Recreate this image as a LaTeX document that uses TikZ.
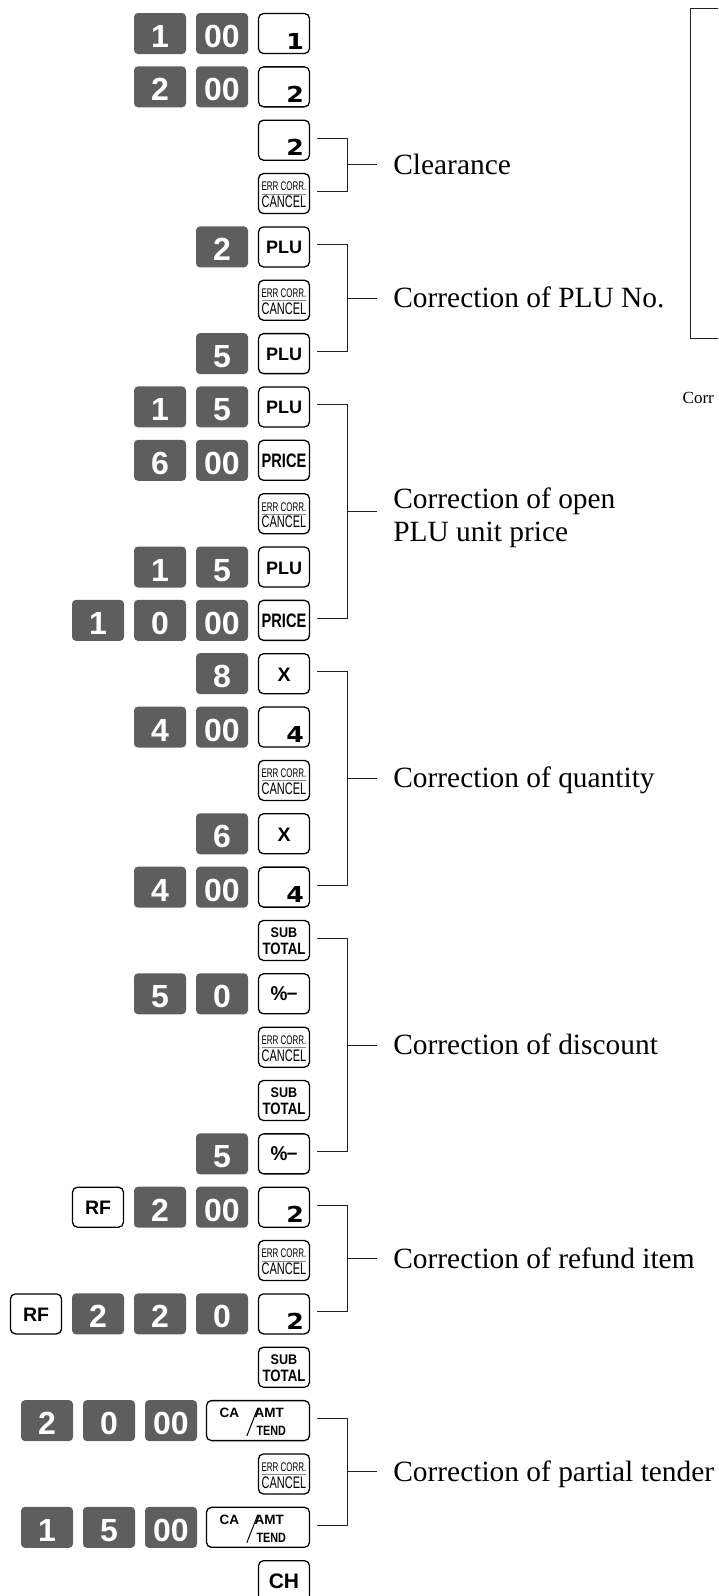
\documentclass[tikz,border=0pt]{standalone}
\usepackage{fontspec}
\setmainfont{Liberation Serif}
\newfontfamily\keyfont{Liberation Sans}
\newfontfamily\heavyfont{DejaVu Sans}
\usepackage{graphicx}
\usetikzlibrary{calc}
\definecolor{dkgray}{HTML}{5E5E5E}
\definecolor{rulegray}{HTML}{8A8A8A}
\definecolor{lnc}{HTML}{222222}

\newcommand\wdig[1]{\makebox[40pt][r]{\scalebox{1.15}[1]{#1}}}
\newcommand\errlabel{\vbox{\offinterlineskip
  \kern3pt
  \hbox to 46pt{\hss\scalebox{0.64}[1]{\fontsize{12.5}{12.5}\selectfont ERR CORR.}\hss}
  \kern2.5pt
  \hbox to 46pt{\hss\textcolor{rulegray}{\rule{44pt}{0.7pt}}\hss}
  \kern1.8pt
  \hbox to 46pt{\hss\scalebox{0.66}[1]{\fontsize{16.7}{16.7}\selectfont CANCEL}\hss}}}
\newcommand\sublabel{\vbox{\offinterlineskip
  \kern2pt
  \hbox to 46pt{\hss\scalebox{0.9}[1]{\fontsize{14}{14}\bfseries\selectfont SUB}\hss}
  \kern5pt
  \hbox to 46pt{\hss\scalebox{0.8}[1]{\fontsize{16.5}{16.5}\bfseries\selectfont TOTAL}\hss}}}
\newcommand\price{\scalebox{0.75}[1]{PRICE}}
\newcommand\pctm{\scalebox{0.95}[1]{\fontsize{20}{20}\selectfont\%\kern-0.5pt\raisebox{1.5pt}{–}}}
\newcommand\K[5][dk]{\node[#1] (#2) at (#3,{33.5+(#4-1)*53.35}) {#5};}
\newcommand\catext[1]{%
  \node[cat] (#1ca) at ([shift={(13.5pt,-18pt)}]#1.north west) {CA};
  \node[cat] (#1amt) at ([shift={(48.5pt,-18pt)}]#1.north west) {AMT};
  \node[cat] (#1tend) at ([shift={(50.5pt,-36pt)}]#1.north west) {\scalebox{0.8}[1]{TEND}};
  \draw[line width=1pt] ([shift={(41pt,-36pt)}]#1.north west) -- ([shift={(52pt,-8pt)}]#1.north west);}
\newcommand\Br[5]{%
  \draw[br] ([shift={(7pt,2pt)}]#1.east) -| ([shift={(37pt,2pt)}]#2.east) -- ([shift={(7pt,2pt)}]#2.east);
  \coordinate (#3m) at ($(#1.east)!0.5!(#2.east)+(37pt,2pt)$);
  \draw[br] (#3m) -- ++(30pt,0pt) coordinate (#3e);
  \node[lbl,#4] (#3) at ([xshift=16pt]#3e) {#5};}

\begin{document}
\begin{tikzpicture}[x=1pt,y=-1pt,
  dk/.style={fill=dkgray, rounded corners=4pt, minimum width=52pt, minimum height=41pt, inner sep=0pt, text=white, font=\keyfont\bfseries\fontsize{32}{32}\selectfont, text height=28pt, text depth=0pt},
  wk/.style={draw=black, line width=1.3pt, fill=white, rounded corners=5pt, minimum width=51pt, minimum height=40pt, inner sep=0pt, font=\keyfont},
  wnum/.style={wk, font=\heavyfont\bfseries\fontsize{22}{22}\selectfont, text height=31pt, text depth=0pt},
  fk/.style={wk, font=\keyfont\bfseries\fontsize{18}{18}\selectfont, text height=14pt, text depth=0pt},
  fkb/.style={wk, font=\keyfont\bfseries\fontsize{19.5}{19.5}\selectfont, text height=15pt, text depth=0pt},
  chk/.style={wk, font=\keyfont\bfseries\fontsize{21}{21}\selectfont, text height=15pt, text depth=0pt},
  wide/.style={wk, minimum width=103pt},
  cat/.style={font=\keyfont\bfseries\fontsize{13.5}{13.5}\selectfont, inner sep=0pt, anchor=base west},
  br/.style={draw=lnc, line width=1pt},
  lbl/.style={font=\fontsize{29.4}{33}\selectfont, inner sep=0pt, align=left},
]
\useasboundingbox (0,0) rectangle (718,1596);
\clip (0,0) rectangle (718,1596);

\K{k1a}{160}{1}{1}
\K{k1b}{222}{1}{00}
\K[wnum]{k1}{284}{1}{\wdig{1}}
\K{k2a}{160}{2}{2}
\K{k2b}{222}{2}{00}
\K[wnum]{k2}{284}{2}{\wdig{2}}
\K[wnum]{k3}{284}{3}{\wdig{2}}
\K[wk]{k4}{284}{4}{\errlabel}
\K{k5a}{222}{5}{2}
\K[fk]{k5}{284}{5}{PLU}
\K[wk]{k6}{284}{6}{\errlabel}
\K{k7a}{222}{7}{5}
\K[fk]{k7}{284}{7}{PLU}
\K{k8a}{160}{8}{1}
\K{k8b}{222}{8}{5}
\K[fk]{k8}{284}{8}{PLU}
\K{k9a}{160}{9}{6}
\K{k9b}{222}{9}{00}
\K[fkb]{k9}{284}{9}{\price}
\K[wk]{k10}{284}{10}{\errlabel}
\K{k11a}{160}{11}{1}
\K{k11b}{222}{11}{5}
\K[fk]{k11}{284}{11}{PLU}
\K{k12a}{98}{12}{1}
\K{k12b}{160}{12}{0}
\K{k12c}{222}{12}{00}
\K[fkb]{k12}{284}{12}{\price}
\K{k13a}{222}{13}{8}
\K[fkb]{k13}{284}{13}{X}
\K{k14a}{160}{14}{4}
\K{k14b}{222}{14}{00}
\K[wnum]{k14}{284}{14}{\wdig{4}}
\K[wk]{k15}{284}{15}{\errlabel}
\K{k16a}{222}{16}{6}
\K[fkb]{k16}{284}{16}{X}
\K{k17a}{160}{17}{4}
\K{k17b}{222}{17}{00}
\K[wnum]{k17}{284}{17}{\wdig{4}}
\K[wk]{k18}{284}{18}{\sublabel}
\K{k19a}{160}{19}{5}
\K{k19b}{222}{19}{0}
\K[fk]{k19}{284}{19}{\pctm}
\K[wk]{k20}{284}{20}{\errlabel}
\K[wk]{k21}{284}{21}{\sublabel}
\K{k22a}{222}{22}{5}
\K[fk]{k22}{284}{22}{\pctm}
\K[fkb]{k23r}{98}{23}{RF}
\K{k23a}{160}{23}{2}
\K{k23b}{222}{23}{00}
\K[wnum]{k23}{284}{23}{\wdig{2}}
\K[wk]{k24}{284}{24}{\errlabel}
\K[fkb]{k25r}{36}{25}{RF}
\K{k25a}{98}{25}{2}
\K{k25b}{160}{25}{2}
\K{k25c}{222}{25}{0}
\K[wnum]{k25}{284}{25}{\wdig{2}}
\K[wk]{k26}{284}{26}{\sublabel}
\K{k27a}{47}{27}{2}
\K{k27b}{109}{27}{0}
\K{k27c}{171}{27}{00}
\K[wide]{k27}{258}{27}{}
\catext{k27}
\K[wk]{k28}{284}{28}{\errlabel}
\K{k29a}{47}{29}{1}
\K{k29b}{109}{29}{5}
\K{k29c}{171}{29}{00}
\K[wide]{k29}{258}{29}{}
\catext{k29}
\K[chk]{k30}{284}{30}{CH}

\Br{k3}{k4}{Lclr}{anchor=base west,yshift=-9.5pt}{Clearance}
\Br{k5}{k7}{Lplu}{anchor=base west,yshift=-9.5pt}{Correction of PLU No.}
\Br{k8}{k12}{Lopen}{anchor=west,yshift=-5.7pt}{Correction of open\\PLU unit price}
\Br{k13}{k17}{Lqty}{anchor=base west,yshift=-9.5pt}{Correction of quantity}
\Br{k18}{k22}{Ldisc}{anchor=base west,yshift=-9.5pt}{Correction of discount}
\Br{k23}{k25}{Lrf}{anchor=base west,yshift=-9.5pt}{Correction of refund item}
\Br{k27}{k29}{Ltend}{anchor=base west,yshift=-9.5pt}{Correction of partial tender}

\draw[line width=0.9pt, draw=lnc] (730,8.3) -- (690,8.3) -- (690,338) -- (730,338);
\node[font=\fontsize{17}{17}\selectfont, anchor=base west, inner sep=0pt] (cut) at (682.5,403) {Corr};
\end{tikzpicture}
\end{document}
